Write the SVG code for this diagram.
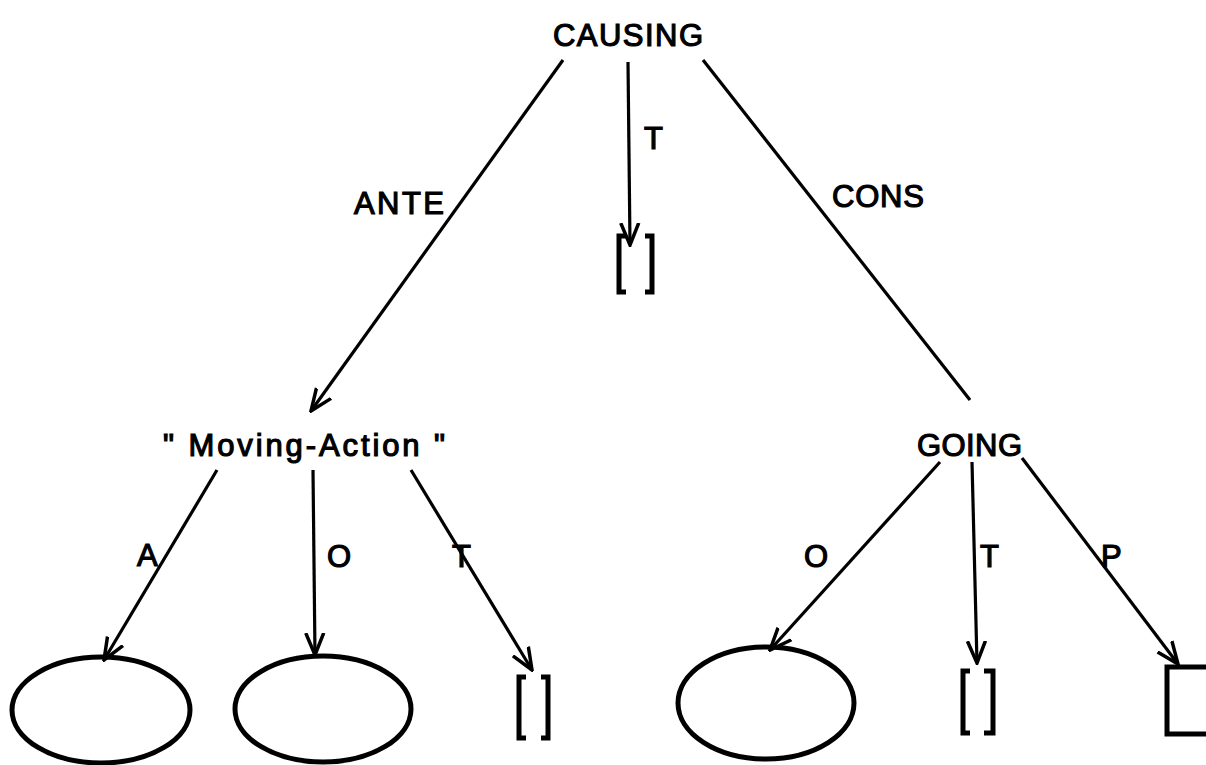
<svg xmlns="http://www.w3.org/2000/svg" width="1206" height="765" viewBox="0 0 1206 765">
<defs>
<style>
.t{font-family:"Liberation Sans",Arial,sans-serif;font-size:31px;fill:#000;stroke:#000;stroke-width:1.2px;}
.e{stroke:#000;stroke-width:3.2;fill:none;}
.s{stroke:#000;stroke-width:5;fill:none;}
</style>
<marker id="ah" viewBox="0 0 24 24" refX="22" refY="12" markerWidth="24" markerHeight="24" markerUnits="userSpaceOnUse" orient="auto">
<path d="M0,3 L22,12 L0,21" fill="none" stroke="#000" stroke-width="3.5"/>
</marker>
</defs>
<rect width="1206" height="765" fill="#fff"/>
<g id="connectors">
<line class="e" x1="563" y1="60" x2="311" y2="411" marker-end="url(#ah)"/>
<line class="e" x1="628" y1="62" x2="630" y2="245" marker-end="url(#ah)"/>
<line class="e" x1="703" y1="60" x2="970" y2="400"/>
<line class="e" x1="217" y1="470" x2="104" y2="660" marker-end="url(#ah)"/>
<line class="e" x1="313" y1="470" x2="315" y2="655" marker-end="url(#ah)"/>
<line class="e" x1="411" y1="470" x2="532" y2="670" marker-end="url(#ah)"/>
<line class="e" x1="940" y1="462" x2="770" y2="650" marker-end="url(#ah)"/>
<line class="e" x1="972" y1="462" x2="977" y2="663" marker-end="url(#ah)"/>
<line class="e" x1="1022" y1="458" x2="1178" y2="664" marker-end="url(#ah)"/>
<text class="t" x="354" y="214" textLength="90">ANTE</text>
<text class="t" x="644" y="149">T</text>
<text class="t" x="832" y="207" textLength="92">CONS</text>
<text class="t" x="137" y="566">A</text>
<text class="t" x="327" y="567">O</text>
<text class="t" x="452" y="567">T</text>
<text class="t" x="804" y="567">O</text>
<text class="t" x="980" y="567">T</text>
<text class="t" x="1101" y="567">P</text>
</g>
<g id="causing"><text class="t" x="553" y="46" textLength="150">CAUSING</text></g>
<g id="causing-time"><path class="s" d="M626,236 H619 V292 H626 M645,236 H652 V292 H645"/></g>
<g id="moving-action"><text class="t" x="163" y="456" textLength="282">" Moving-Action "</text></g>
<g id="going"><text class="t" x="917" y="456" textLength="105">GOING</text></g>
<g id="ma-agent"><ellipse class="s" cx="101" cy="710" rx="89" ry="53"/></g>
<g id="ma-object"><ellipse class="s" cx="323" cy="709" rx="88" ry="53"/></g>
<g id="ma-time"><path class="s" d="M526,677 H519 V738 H526 M541,677 H548 V738 H541"/></g>
<g id="going-object"><ellipse class="s" cx="766" cy="703" rx="88" ry="56"/></g>
<g id="going-time"><path class="s" d="M970,671 H963 V733 H970 M984,671 H993 V733 H984"/></g>
<g id="going-path"><path class="s" d="M1210,667 H1167 V734 H1210"/></g>
</svg>
